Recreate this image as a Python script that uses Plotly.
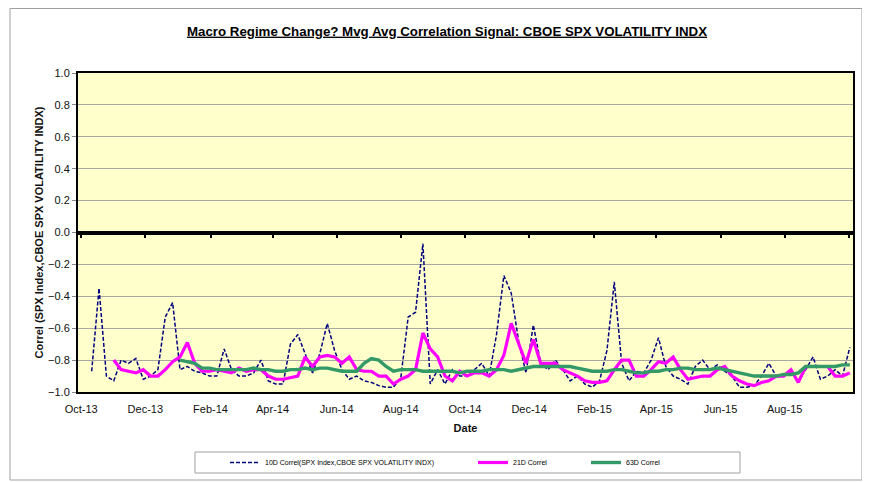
import pandas as pd
import plotly.graph_objects as go

# ---- data (weekly readings) ----
dates = pd.date_range("2013-10-11", periods=104, freq="7D")

corr_10d = [-0.87, -0.35, -0.90, -0.93, -0.80, -0.82, -0.79, -0.92, -0.90, -0.86,
            -0.53, -0.44, -0.86, -0.84, -0.87, -0.88, -0.90, -0.90, -0.73, -0.86,
            -0.90, -0.90, -0.88, -0.80, -0.93, -0.95, -0.95, -0.70, -0.64, -0.76,
            -0.88, -0.76, -0.57, -0.74, -0.86, -0.92, -0.90, -0.93, -0.94, -0.96,
            -0.97, -0.97, -0.91, -0.53, -0.50, -0.07, -0.95, -0.86, -0.95, -0.86,
            -0.90, -0.90, -0.86, -0.82, -0.90, -0.64, -0.27, -0.38, -0.68, -0.88,
            -0.58, -0.82, -0.86, -0.80, -0.86, -0.93, -0.90, -0.95, -0.97, -0.93,
            -0.74, -0.31, -0.82, -0.93, -0.87, -0.88, -0.80, -0.66, -0.84, -0.90,
            -0.92, -0.95, -0.84, -0.80, -0.86, -0.83, -0.87, -0.90, -0.97, -0.97,
            -0.96, -0.90, -0.82, -0.90, -0.90, -0.87, -0.93, -0.86, -0.78, -0.92,
            -0.90, -0.86, -0.90, -0.72]

corr_21d = [None, None, None, -0.80, -0.86, -0.87, -0.88, -0.86, -0.90, -0.90,
            -0.86, -0.81, -0.78, -0.69, -0.82, -0.87, -0.87, -0.86, -0.87, -0.88,
            -0.85, -0.87, -0.86, -0.86, -0.90, -0.92, -0.92, -0.91, -0.90, -0.78,
            -0.84, -0.78, -0.77, -0.78, -0.82, -0.78, -0.86, -0.87, -0.87, -0.90,
            -0.90, -0.95, -0.92, -0.90, -0.86, -0.63, -0.73, -0.78, -0.90, -0.93,
            -0.87, -0.90, -0.88, -0.88, -0.90, -0.86, -0.77, -0.57, -0.70, -0.82,
            -0.67, -0.82, -0.82, -0.82, -0.86, -0.88, -0.90, -0.93, -0.94, -0.94,
            -0.93, -0.86, -0.80, -0.80, -0.90, -0.90, -0.86, -0.81, -0.82, -0.78,
            -0.86, -0.92, -0.91, -0.90, -0.90, -0.86, -0.84, -0.90, -0.93, -0.95,
            -0.96, -0.94, -0.93, -0.90, -0.90, -0.86, -0.94, -0.84, -0.84, -0.84,
            -0.84, -0.90, -0.90, -0.88]

corr_63d = [None, None, None, None, None, None, None, None, None, None,
            None, None, -0.80, -0.81, -0.82, -0.85, -0.85, -0.86, -0.86, -0.86,
            -0.86, -0.86, -0.85, -0.86, -0.86, -0.87, -0.87, -0.86, -0.86, -0.85,
            -0.86, -0.85, -0.85, -0.86, -0.87, -0.87, -0.87, -0.82, -0.79, -0.80,
            -0.84, -0.87, -0.86, -0.86, -0.86, -0.87, -0.87, -0.87, -0.87, -0.87,
            -0.88, -0.87, -0.87, -0.87, -0.86, -0.86, -0.86, -0.87, -0.86, -0.85,
            -0.84, -0.84, -0.84, -0.84, -0.84, -0.84, -0.85, -0.86, -0.87, -0.87,
            -0.87, -0.86, -0.86, -0.87, -0.88, -0.88, -0.87, -0.87, -0.86, -0.86,
            -0.85, -0.85, -0.86, -0.86, -0.86, -0.85, -0.86, -0.87, -0.88, -0.89,
            -0.90, -0.90, -0.90, -0.90, -0.89, -0.89, -0.88, -0.84, -0.84, -0.84,
            -0.84, -0.84, -0.83, -0.83]

x_tick_dates = ["2013-10-01", "2013-12-01", "2014-02-01", "2014-04-01", "2014-06-01",
                "2014-08-01", "2014-10-01", "2014-12-01", "2015-02-01", "2015-04-01",
                "2015-06-01", "2015-08-01"]

title_text = "Macro Regime Change? Mvg Avg Correlation Signal: CBOE SPX VOLATILITY INDX"
name_10d = "10D Correl(SPX Index,CBOE SPX VOLATILITY INDX)"
name_21d = "21D Correl"
name_63d = "63D Correl"
y_title = "Correl (SPX Index,CBOE SPX VOLATILITY INDX)"
x_title = "Date"

FONT = "Liberation Sans, Arial, sans-serif"

# figure geometry (page body adds an 8px offset)
W, H = 862, 474
ML, MR, MT, MB = 70, 17, 65, 90
PW, PH = W - ML - MR, H - MT - MB


def px(xf):
    return (xf - ML) / PW


def py(yf):
    return (H - MB - yf) / PH


leg_y = py(454.5)
leg_font = dict(size=7, color="#000", family=FONT)

fig = go.Figure()
fig.add_trace(go.Scatter(x=dates, y=corr_10d, name=name_10d, mode="lines", legend="legend",
                         line=dict(color="#000080", width=1.5, dash="4px,2px")))
fig.add_trace(go.Scatter(x=dates, y=corr_21d, name=name_21d, mode="lines", legend="legend2",
                         line=dict(color="#FF00FF", width=3.2)))
fig.add_trace(go.Scatter(x=dates, y=corr_63d, name=name_63d, mode="lines", legend="legend3",
                         line=dict(color="#339966", width=3.4)))
# invisible trace to carry the zero-crossing axis
fig.add_trace(go.Scatter(x=dates, y=corr_63d, xaxis="x2", mode="lines",
                         line=dict(width=0), opacity=0, showlegend=False,
                         hoverinfo="skip"))

xrange = ["2013-09-28", "2015-10-05"]

common_leg = dict(orientation="h", yanchor="middle", y=leg_y, xanchor="left",
                  bgcolor="rgba(0,0,0,0)", borderwidth=0, font=leg_font)

fig.update_layout(
    width=W, height=H,
    margin=dict(l=ML, r=MR, t=MT, b=MB, autoexpand=False),
    paper_bgcolor="white",
    plot_bgcolor="#FFFFCC",
    font=dict(family=FONT, size=11, color="#111"),
    title=dict(text="<b><u>" + title_text + "</u></b>", x=439 / W, xanchor="center",
               xref="container", yref="container",
               y=1 - 23 / H, yanchor="middle", font=dict(size=13.3, color="#000")),
    showlegend=True,
    legend=dict(x=px(217), **common_leg),
    legend2=dict(x=px(465), **common_leg),
    legend3=dict(x=px(578), **common_leg),
    xaxis=dict(range=xrange, type="date", tickvals=x_tick_dates,
               tickformat="%b-%y", showgrid=False, zeroline=False, automargin=False,
               showline=True, linecolor="#000", linewidth=2, mirror=True,
               ticks="", tickfont=dict(size=11), ticklabelstandoff=6,
               title=dict(text="<b>" + x_title + "</b>", standoff=10, font=dict(size=11))),
    xaxis2=dict(range=xrange, type="date", dtick="M2", tick0="2013-10-01",
                overlaying="x", anchor="free", position=0.5, side="bottom",
                showline=True, linecolor="#000", linewidth=4, automargin=False,
                ticks="outside", ticklen=3, tickwidth=2, tickcolor="#000",
                showticklabels=False, showgrid=False, zeroline=False),
    yaxis=dict(range=[-1, 1], dtick=0.2, tick0=0, tickformat=".1f", automargin=False,
               showgrid=True, gridcolor="#A8A8A0", gridwidth=1, zeroline=False,
               showline=True, linecolor="#000", linewidth=2, mirror=True,
               ticks="outside", ticklen=4, tickcolor="#888", tickfont=dict(size=11),
               title=dict(text="<b>" + y_title + "</b>", standoff=2, font=dict(size=11))),
    shapes=[
        dict(type="rect", xref="paper", yref="paper",
             x0=px(2), x1=px(854), y0=py(472), y1=py(0.5),
             line=dict(color="#A0A0A0", width=1), layer="below"),
        dict(type="rect", xref="paper", yref="paper",
             x0=px(187), x1=px(732), y0=py(465), y1=py(444),
             line=dict(color="#A0A0A0", width=1), fillcolor="white", layer="below"),
    ],
)

fig.write_html("out.html")
